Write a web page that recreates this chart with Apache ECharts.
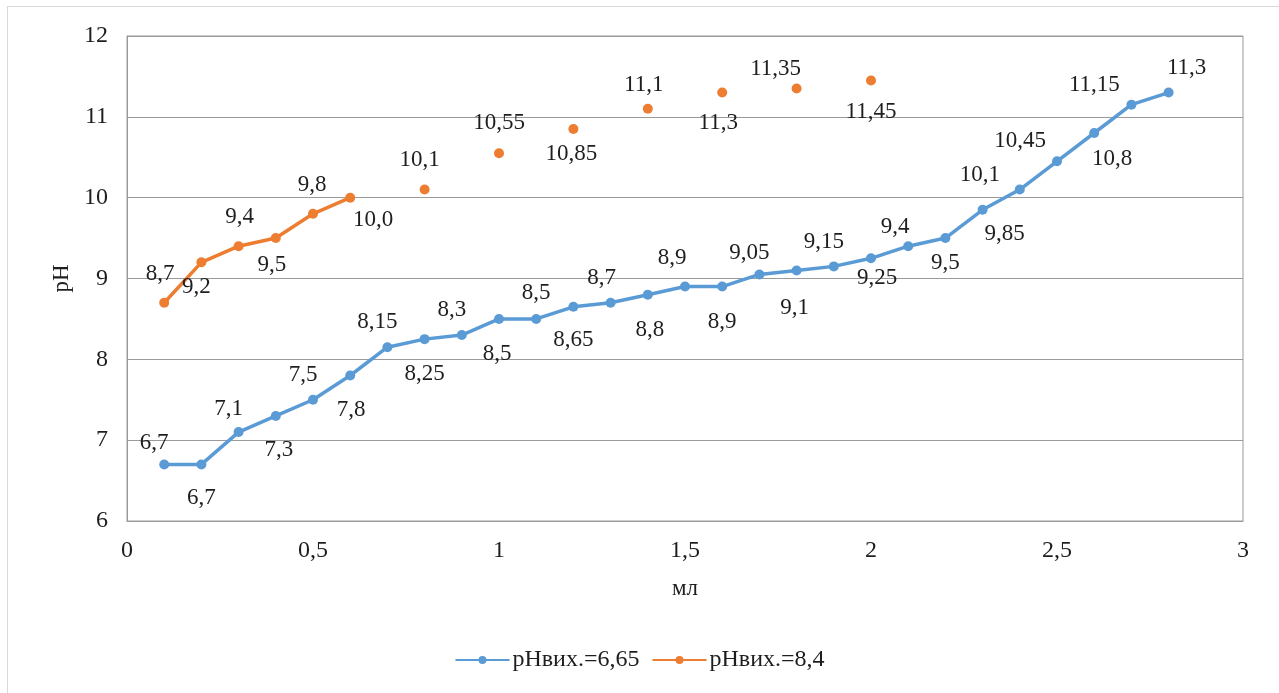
<!DOCTYPE html>
<html>
<head>
<meta charset="utf-8">
<script src="https://cdn.jsdelivr.net/npm/echarts@6/dist/echarts.min.js"></script>
<style>
  html, body { margin: 0; padding: 0; background: #fff; }
  #frame { position: absolute; left: 7px; top: 6px; width: 1300px; height: 720px;
           border-left: 1px solid #d9d9d9; border-top: 1px solid #d9d9d9; }
  #chart { position: absolute; left: 0; top: 0; width: 1279px; height: 693px; }
</style>
</head>
<body>
<div id="frame"></div>
<div id="chart"></div>
<script>
// Added titrant volume, ml
const volumes = [0.1, 0.2, 0.3, 0.4, 0.5, 0.6, 0.7, 0.8, 0.9, 1.0,
                 1.1, 1.2, 1.3, 1.4, 1.5, 1.6, 1.7, 1.8, 1.9, 2.0,
                 2.1, 2.2, 2.3, 2.4, 2.5, 2.6, 2.7, 2.8];

// pH, starting pH = 6.65
const phSeriesA = [6.7, 6.7, 7.1, 7.3, 7.5, 7.8, 8.15, 8.25, 8.3, 8.5,
                   8.5, 8.65, 8.7, 8.8, 8.9, 8.9, 9.05, 9.1, 9.15, 9.25,
                   9.4, 9.5, 9.85, 10.1, 10.45, 10.8, 11.15, 11.3];

// pH, starting pH = 8.4 (no readings at the odd steps after 0.6 ml)
const phSeriesB = [8.7, 9.2, 9.4, 9.5, 9.8, 10.0, null, 10.1, null, 10.55,
                   null, 10.85, null, 11.1, null, 11.3, null, 11.35, null, 11.45,
                   null, null, null, null, null, null, null, null];

const seriesNames = ['pHвих.=6,65', 'pHвих.=8,4'];
const xTicks = [0, 0.5, 1, 1.5, 2, 2.5, 3];
const yTicks = [6, 7, 8, 9, 10, 11, 12];

// Label nudges (px from the marker centre) so neighbouring labels don't collide
const labelShiftA = [[-10,-21],[0,34],[-10,-23],[3,34],[-10,-25],[1,34],[-10,-25],[0,35],[-10,-25],[-2,35],
                     [0,-26],[0,33],[-9,-25],[2,35],[-13,-29],[0,35],[-10,-22],[-2,38],[-10,-24],[6,20],
                     [-13,-19],[0,25],[22,24],[-40,-15],[-37,-20],[18,26],[-37,-20],[18,-25]];
const labelShiftB = [[-4,-29],[-5,25],[1,-29],[-4,27],[-1,-29],[23,22],null,[-5,-30],null,[0,-30],
                     null,[-2,25],null,[-4,-24],null,[-4,30],null,[-21,-20],null,[0,31],
                     null,null,null,null,null,null,null,null];

const FONT = '"Liberation Serif", "Times New Roman", serif';
const TEXT = '#1e1e1e';
const comma = v => String(v).replace('.', ',');

function buildData(values, shifts) {
  return volumes.map((x, i) => {
    const y = values[i];
    if (y === null) return [x, null];
    return {
      value: [x, y],
      label: { show: true, position: 'inside', offset: shifts[i],
               formatter: () => (Number.isInteger(y) && y >= 10 ? comma(y.toFixed(1)) : comma(y)) }
    };
  });
}

const chart = echarts.init(document.getElementById('chart'));
chart.setOption({
  backgroundColor: 'transparent',
  animation: false,
  textStyle: { fontFamily: FONT },
  grid: { left: 127, right: 36, top: 36, bottom: 172, show: true,
          borderColor: '#9a9a9a', borderWidth: 1 },
  legend: {
    bottom: 16, left: 'center', itemWidth: 54, itemHeight: 10, itemGap: 12,
    textStyle: { fontFamily: FONT, fontSize: 24, color: TEXT, padding: [0, 0, 0, -2] },
    data: seriesNames
  },
  xAxis: {
    type: 'value', min: 0, max: 3, interval: 0.5,
    name: 'мл', nameLocation: 'middle', nameGap: 56,
    nameTextStyle: { fontFamily: FONT, fontSize: 23, color: TEXT },
    axisLine: { show: true, lineStyle: { color: '#9a9a9a' } },
    axisTick: { show: false },
    splitLine: { show: false },
    axisLabel: { fontFamily: FONT, fontSize: 24, color: TEXT, margin: 18,
                 formatter: v => comma(v) }
  },
  yAxis: {
    type: 'value', min: 6, max: 12, interval: 1,
    name: 'pH', nameLocation: 'middle', nameGap: 53, nameRotate: 90,
    nameTextStyle: { fontFamily: FONT, fontSize: 23, color: TEXT },
    axisLine: { show: true, lineStyle: { color: '#9a9a9a' } },
    axisTick: { show: false },
    splitLine: { show: true, lineStyle: { color: '#9a9a9a', width: 1 } },
    axisLabel: { fontFamily: FONT, fontSize: 24, color: TEXT, margin: 19,
                 formatter: v => comma(v) }
  },
  series: [
    {
      name: seriesNames[0], type: 'line',
      data: buildData(phSeriesA, labelShiftA),
      symbol: 'circle', symbolSize: 10,
      itemStyle: { color: '#5B9BD5' },
      lineStyle: { color: '#5B9BD5', width: 3.5 },
      label: { fontFamily: FONT, fontSize: 23, color: TEXT },
      z: 3
    },
    {
      name: seriesNames[1], type: 'line',
      data: buildData(phSeriesB, labelShiftB),
      connectNulls: false,
      symbol: 'circle', symbolSize: 10,
      itemStyle: { color: '#ED7D31' },
      lineStyle: { color: '#ED7D31', width: 3.5 },
      label: { fontFamily: FONT, fontSize: 23, color: TEXT },
      z: 3
    }
  ]
});
</script>
</body>
</html>
